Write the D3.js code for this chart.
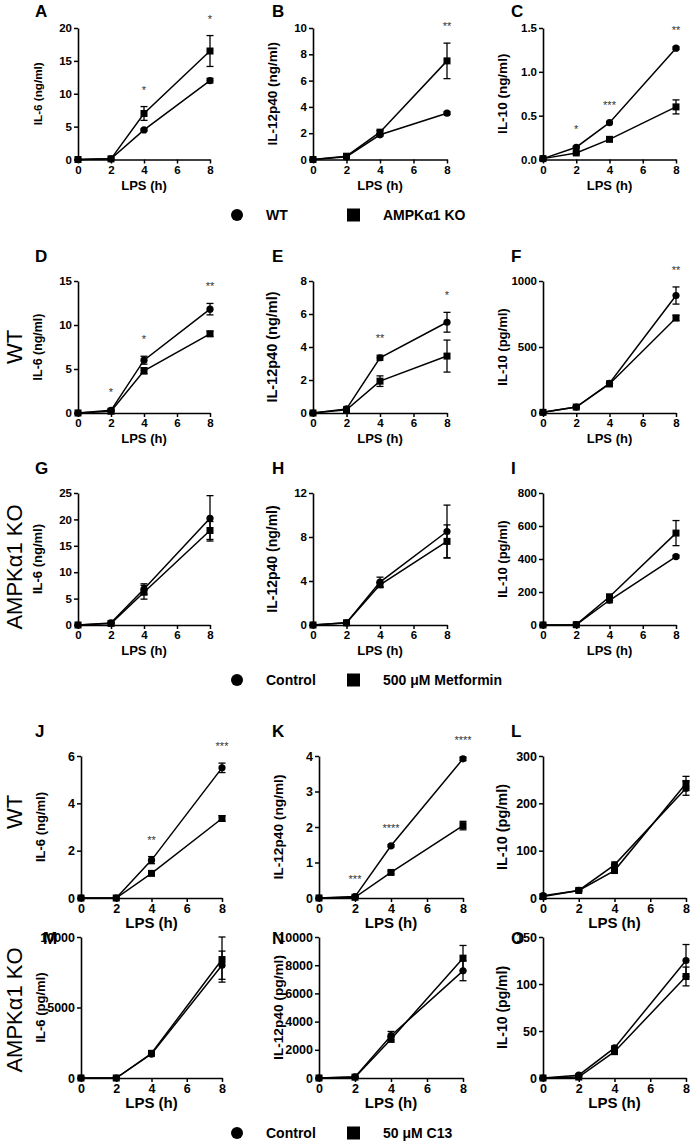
<!DOCTYPE html>
<html><head><meta charset="utf-8">
<script src="https://cdn.jsdelivr.net/npm/d3@7"></script>
<style>body{margin:0;background:#fff} svg{display:block}</style>
</head><body>
<svg id="fig" width="690" height="1145"></svg>
<script>
// ---------------- DATA ----------------
const times = [0, 2, 4, 8];
const xTickValues = [0, 2, 4, 6, 8];

const A_yTicks = [0, 5, 10, 15, 20];
const A_circle = [0, 0.1, 4.5, 12.0];
const A_circleErr = [0, 0, 0.15, 0.35];
const A_square = [0, 0.1, 7.0, 16.5];
const A_squareErr = [0, 0, 1.05, 2.35];
const A_stars = ["", "", "*", "*"];

const B_yTicks = [0, 2, 4, 6, 8, 10];
const B_circle = [0, 0.2, 1.88, 3.52];
const B_circleErr = [0, 0.05, 0.1, 0.1];
const B_square = [0, 0.25, 2.08, 7.5];
const B_squareErr = [0, 0.05, 0.12, 1.35];
const B_stars = ["", "", "", "**"];

const C_yTicks = [0, 0.5, 1.0, 1.5];
const C_circle = [0.01, 0.14, 0.42, 1.27];
const C_circleErr = [0, 0.01, 0.01, 0.015];
const C_square = [0.01, 0.075, 0.23, 0.60];
const C_squareErr = [0, 0.01, 0.01, 0.08];
const C_stars = ["", "*", "***", "**"];

const D_yTicks = [0, 5, 10, 15];
const D_circle = [0, 0.3, 6.0, 11.8];
const D_circleErr = [0, 0.1, 0.45, 0.65];
const D_square = [0, 0.2, 4.8, 9.0];
const D_squareErr = [0, 0.05, 0.35, 0.3];
const D_stars = ["", "*", "*", "**"];

const E_yTicks = [0, 2, 4, 6, 8];
const E_circle = [0, 0.25, 3.35, 5.5];
const E_circleErr = [0, 0.05, 0.15, 0.6];
const E_square = [0, 0.2, 1.93, 3.45];
const E_squareErr = [0, 0.05, 0.32, 0.97];
const E_stars = ["", "", "**", "*"];

const F_yTicks = [0, 500, 1000];
const F_circle = [5, 45, 225, 890];
const F_circleErr = [0, 8, 15, 65];
const F_square = [5, 45, 220, 720];
const F_squareErr = [0, 5, 10, 20];
const F_stars = ["", "", "", "**"];

const G_yTicks = [0, 5, 10, 15, 20, 25];
const G_circle = [0, 0.4, 6.8, 20.2];
const G_circleErr = [0, 0.1, 1.0, 4.3];
const G_square = [0, 0.3, 6.2, 17.9];
const G_squareErr = [0, 0.1, 1.3, 1.7];
const G_stars = ["", "", "", ""];

const H_yTicks = [0, 4, 8, 12];
const H_circle = [0, 0.2, 3.9, 8.5];
const H_circleErr = [0, 0.05, 0.45, 2.4];
const H_square = [0, 0.2, 3.65, 7.6];
const H_squareErr = [0, 0.05, 0.2, 1.5];
const H_stars = ["", "", "", ""];

const I_yTicks = [0, 200, 400, 600, 800];
const I_circle = [0, 2, 150, 415];
const I_circleErr = [0, 1, 15, 8];
const I_square = [0, 2, 171, 557];
const I_squareErr = [0, 1, 12, 76];
const I_stars = ["", "", "", ""];

const J_yTicks = [0, 2, 4, 6];
const J_circle = [0, 0, 1.6, 5.5];
const J_circleErr = [0, 0, 0.15, 0.2];
const J_square = [0, 0, 1.04, 3.36];
const J_squareErr = [0, 0, 0.05, 0.12];
const J_stars = ["", "", "**", "***"];

const K_yTicks = [0, 1, 2, 3, 4];
const K_circle = [0, 0.04, 1.47, 3.92];
const K_circleErr = [0, 0.01, 0.03, 0.05];
const K_square = [0, 0.02, 0.72, 2.04];
const K_squareErr = [0, 0.01, 0.04, 0.12];
const K_stars = ["", "***", "****", "****"];

const L_yTicks = [0, 100, 200, 300];
const L_circle = [5, 16, 70, 232];
const L_circleErr = [0, 2, 6, 15];
const L_square = [3, 16, 58, 242];
const L_squareErr = [0, 2, 4, 15];
const L_stars = ["", "", "", ""];

const M_yTicks = [0, 5000, 10000];
const M_circle = [0, 0, 1700, 8000];
const M_circleErr = [0, 0, 100, 1000];
const M_square = [0, 0, 1750, 8400];
const M_squareErr = [0, 0, 120, 1600];
const M_stars = ["", "", "", ""];

const N_yTicks = [0, 2000, 4000, 6000, 8000, 10000];
const N_circle = [0, 80, 3000, 7600];
const N_circleErr = [0, 20, 300, 700];
const N_square = [0, 60, 2750, 8500];
const N_squareErr = [0, 20, 200, 900];
const N_stars = ["", "", "", ""];

const O_yTicks = [0, 50, 100, 150];
const O_circle = [0, 3, 32, 125];
const O_circleErr = [0, 1, 2, 17];
const O_square = [0, 1, 28, 108];
const O_squareErr = [0, 1, 2, 10];
const O_stars = ["", "", "", ""];

const yTitles = {
  A: "IL-6 (ng/ml)", B: "IL-12p40 (ng/ml)", C: "IL-10 (ng/ml)",
  D: "IL-6 (ng/ml)", E: "IL-12p40 (ng/ml)", F: "IL-10 (pg/ml)",
  G: "IL-6 (ng/ml)", H: "IL-12p40 (ng/ml)", I: "IL-10 (pg/ml)",
  J: "IL-6 (ng/ml)", K: "IL-12p40 (ng/ml)", L: "IL-10 (pg/ml)",
  M: "IL-6 (pg/ml)", N: "IL-12p40 (pg/ml)", O: "IL-10 (pg/ml)"
};
const xTitle = "LPS (h)";
const rowLabels = ["WT", "AMPKα1 KO", "WT", "AMPKα1 KO"];
const legend1 = ["WT", "AMPKα1 KO"];
const legend2 = ["Control", "500 μM Metformin"];
const legend3 = ["Control", "50 μM C13"];

// ------------- build panel table from arrays -------------
const series = {
  A: [A_yTicks, A_circle, A_circleErr, A_square, A_squareErr, A_stars],
  B: [B_yTicks, B_circle, B_circleErr, B_square, B_squareErr, B_stars],
  C: [C_yTicks, C_circle, C_circleErr, C_square, C_squareErr, C_stars],
  D: [D_yTicks, D_circle, D_circleErr, D_square, D_squareErr, D_stars],
  E: [E_yTicks, E_circle, E_circleErr, E_square, E_squareErr, E_stars],
  F: [F_yTicks, F_circle, F_circleErr, F_square, F_squareErr, F_stars],
  G: [G_yTicks, G_circle, G_circleErr, G_square, G_squareErr, G_stars],
  H: [H_yTicks, H_circle, H_circleErr, H_square, H_squareErr, H_stars],
  I: [I_yTicks, I_circle, I_circleErr, I_square, I_squareErr, I_stars],
  J: [J_yTicks, J_circle, J_circleErr, J_square, J_squareErr, J_stars],
  K: [K_yTicks, K_circle, K_circleErr, K_square, K_squareErr, K_stars],
  L: [L_yTicks, L_circle, L_circleErr, L_square, L_squareErr, L_stars],
  M: [M_yTicks, M_circle, M_circleErr, M_square, M_squareErr, M_stars],
  N: [N_yTicks, N_circle, N_circleErr, N_square, N_squareErr, N_stars],
  O: [O_yTicks, O_circle, O_circleErr, O_square, O_squareErr, O_stars]
};

// ------------- layout -------------
const rowsY = [
  {top: 28, bot: 159.5, letterY: 17, tick: 11.5, xt: 13},
  {top: 281, bot: 413, letterY: 262, tick: 11.5, xt: 13},
  {top: 493, bot: 625, letterY: 474, tick: 11.5, xt: 13},
  {top: 756, bot: 898, letterY: 737, tick: 12.5, xt: 15},
  {top: 937, bot: 1078, letterY: 944, tick: 12.5, xt: 15}
];
const colsA = [[78, 210], [313, 447], [543, 676]];
const colsB = [[81, 222], [319, 463], [543, 686]];
const letterX = [35, 272, 511];
const titleSize = {A: 11.7, B: 13.5, C: 13.5, D: 12.4, E: 14.5, F: 13, G: 13, H: 14, I: 13, J: 13, K: 13.7, L: 14.5, M: 13, N: 13.7, O: 14};
const ids = "ABCDEFGHIJKLMNO".split("");

const FONT = "'Liberation Sans', Arial, Helvetica, sans-serif";
const svg = d3.select("#fig").style("font-family", FONT);

ids.forEach((id, i) => {
  const r = Math.floor(i / 3), c = i % 3;
  const row = rowsY[r];
  const cols = r < 3 ? colsA : colsB;
  const [x0, x1] = cols[c];
  const [yTicks, circ, circE, sq, sqE, stars] = series[id];
  const x = d3.scaleLinear().domain([0, 8]).range([x0, x1]);
  const y = d3.scaleLinear().domain([0, d3.max(yTicks)]).range([row.bot, row.top]);
  const g = svg.append("g");
  const fmt = id === "C" ? d3.format(".1f") : d3.format("d");

  const yAx = g.append("g").attr("transform", `translate(${x0},0)`)
    .call(d3.axisLeft(y).tickValues(yTicks).tickSize(4).tickSizeOuter(0).tickPadding(2).tickFormat(fmt));
  const xAx = g.append("g").attr("transform", `translate(0,${row.bot})`)
    .call(d3.axisBottom(x).tickValues(xTickValues).tickSize(4).tickSizeOuter(0).tickPadding(2).tickFormat(d3.format("d")));
  [yAx, xAx].forEach(a => {
    a.select(".domain").attr("stroke", "#000").attr("stroke-width", 1.6);
    a.selectAll(".tick line").attr("stroke", "#000").attr("stroke-width", 1.5);
    a.selectAll(".tick text").attr("fill", "#000").attr("font-weight", "bold")
      .attr("font-size", row.tick).attr("font-family", FONT);
  });

  // titles
  g.append("text").attr("transform", `translate(${x0 - 36},${(row.top + row.bot) / 2}) rotate(-90)`)
    .attr("text-anchor", "middle").attr("font-weight", "bold").attr("font-size", titleSize[id])
    .text(yTitles[id]);
  g.append("text").attr("x", (x0 + x1) / 2).attr("y", row.bot + 30)
    .attr("text-anchor", "middle").attr("font-weight", "bold").attr("font-size", row.xt).text(xTitle);

  // letter
  const lx = r === 4 && c === 0 ? 43 : letterX[c];
  g.append("text").attr("x", lx).attr("y", row.letterY).attr("font-weight", "bold")
    .attr("font-size", 17).text(id);

  const line = d3.line().x((d, k) => x(times[k])).y(d => y(d));
  [circ, sq].forEach(s => g.append("path").datum(s).attr("d", line)
    .attr("fill", "none").attr("stroke", "#000").attr("stroke-width", 1.5));

  // error bars
  [[circ, circE], [sq, sqE]].forEach(([s, e]) => {
    s.forEach((v, k) => {
      if (!e[k]) return;
      const cx = x(times[k]), yt = y(v + e[k]), yb = y(Math.max(0, v - e[k]));
      g.append("line").attr("x1", cx).attr("x2", cx).attr("y1", yt).attr("y2", yb)
        .attr("stroke", "#000").attr("stroke-width", 1.3);
      [yt, yb].forEach(yy => g.append("line").attr("x1", cx - 3.5).attr("x2", cx + 3.5)
        .attr("y1", yy).attr("y2", yy).attr("stroke", "#000").attr("stroke-width", 1.3));
    });
  });
  // markers
  g.selectAll(null).data(circ).enter().append("circle")
    .attr("cx", (d, k) => x(times[k])).attr("cy", d => y(d)).attr("r", 3.6).attr("fill", "#000");
  g.selectAll(null).data(sq).enter().append("rect")
    .attr("x", (d, k) => x(times[k]) - 3.5).attr("y", d => y(d) - 3.5)
    .attr("width", 7).attr("height", 7).attr("fill", "#000");

  // stars
  stars.forEach((s, k) => {
    if (!s) return;
    const top = Math.min(y(circ[k] + circE[k]), y(sq[k] + sqE[k])) - 4;
    g.append("text").attr("x", x(times[k])).attr("y", top - 9)
      .attr("text-anchor", "middle").attr("font-size", 11).attr("fill", "#333").text(s);
  });
});

// row labels
const rowLabelY = [347, 567, 812, 1010];
rowLabels.forEach((t, i) => {
  svg.append("text").attr("transform", `translate(14.5,${rowLabelY[i]}) rotate(-90)`)
    .attr("text-anchor", "middle").attr("dominant-baseline", "central")
    .attr("font-size", 22).text(t);
});

// legends
function legend(labels, yc) {
  svg.append("circle").attr("cx", 237).attr("cy", yc).attr("r", 6).attr("fill", "#000");
  svg.append("text").attr("x", 266).attr("y", yc + 5).attr("font-weight", "bold").attr("font-size", 14).text(labels[0]);
  svg.append("rect").attr("x", 347).attr("y", yc - 6.5).attr("width", 13).attr("height", 13).attr("fill", "#000");
  svg.append("text").attr("x", 383).attr("y", yc + 5).attr("font-weight", "bold").attr("font-size", 14).text(labels[1]);
}
legend(legend1, 215);
legend(legend2, 680);
legend(legend3, 1133);
</script>
</body></html>
